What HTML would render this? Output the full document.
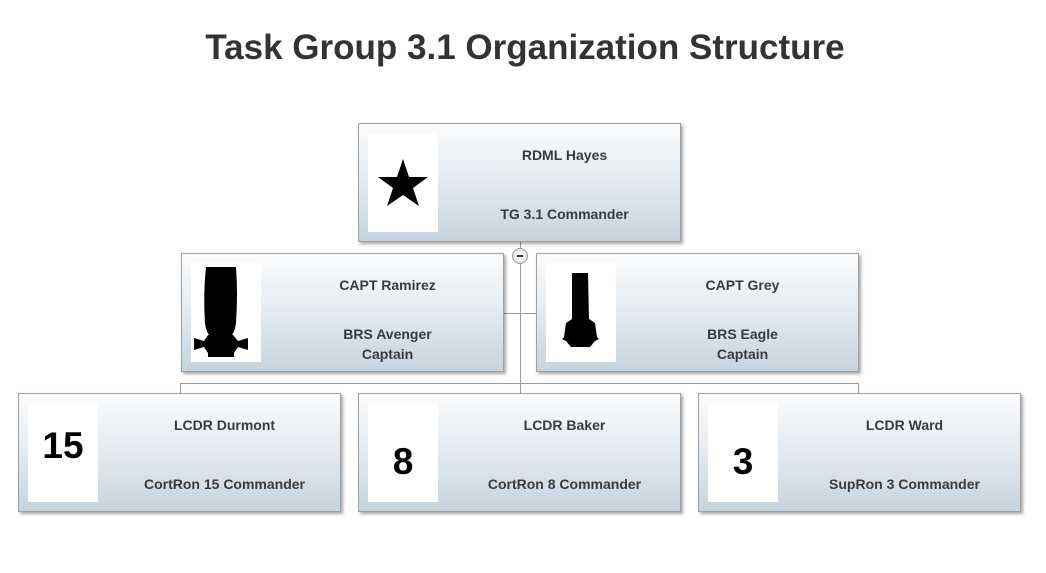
<!DOCTYPE html>
<html><head><style>
body{margin:0;width:1046px;height:573px;background:#fff;position:relative;overflow:hidden;font-family:"Liberation Sans",sans-serif}
.t{position:absolute;left:0;width:1050px;top:28px;text-align:center;font-size:35px;font-weight:bold;color:#333}
.b{position:absolute;width:323px;height:119px;border:1px solid #a0a0a0;box-sizing:border-box;background:linear-gradient(#fbfcfd,#e6ecf1 45%,#c6d4df);box-shadow:2px 2px 3px rgba(0,0,0,.35)}
.im{position:absolute;left:9px;top:9px;width:70px;height:99px;background:#fff;display:flex;align-items:center;justify-content:center;font-weight:bold;color:#000;font-size:37px}
.n,.r{position:absolute;left:90px;right:0;text-align:center;font-size:14px;font-weight:bold;color:#3a3a3a;line-height:20px}
.n{top:21px}.r{top:80px}.r2{top:70px}
.l{position:absolute;background:#9a9a9a}
</style></head><body>
<div class="t">Task Group 3.1 Organization Structure</div>
<div class="l" style="left:520px;top:241px;width:1px;height:152px"></div>
<div class="l" style="left:503px;top:313px;width:33px;height:1px"></div>
<div class="l" style="left:180px;top:383px;width:679px;height:1px"></div>
<div class="l" style="left:180px;top:383px;width:1px;height:10px"></div>
<div class="l" style="left:858px;top:383px;width:1px;height:10px"></div>
<div style="position:absolute;left:512px;top:248px;width:14px;height:14px;border:1px solid #999;border-radius:50%;background:radial-gradient(#fff,#ddd);"><div style="position:absolute;left:4px;top:6px;width:6px;height:2px;background:#333"></div></div>

<div class="b" style="left:358px;top:123px"><div class="im"><svg width="56" height="56" viewBox="0 0 56 56"><polygon fill="#000" points="28,4 34,22 53,22 38,33 44,51 28,40 12,51 18,33 3,22 22,22"/></svg></div><div class="n">RDML Hayes</div><div class="r">TG 3.1 Commander</div></div>

<div class="b" style="left:181px;top:253px"><div class="im"><svg width="70" height="99" viewBox="0 0 70 99"><path fill="#000" d="M15 4 H45 Q47 30 45 60 Q44 68 41 72 H18 Q15 68 14 60 Q12 30 15 4Z M17 72 H42 L47 78 L57 75 L57 87 L47 84 L43 90 V94 H17 V90 L13 84 L3 87 L3 75 L13 78Z"/></svg></div><div class="n">CAPT Ramirez</div><div class="r r2">BRS Avenger<br>Captain</div></div>

<div class="b" style="left:536px;top:253px"><div class="im"><svg width="70" height="99" viewBox="0 0 70 99"><path fill="#000" d="M26 10 H42 L43 56 L49 60 L51 74 L53 76 L51 77 L49 78 L44 84 H25 L20 78 L16 76 L18 74 L20 60 L26 56Z"/></svg></div><div class="n">CAPT Grey</div><div class="r r2">BRS Eagle<br>Captain</div></div>

<div class="b" style="left:18px;top:393px"><div class="im" style="align-items:flex-start;padding-top:22px;box-sizing:border-box">15</div><div class="n">LCDR Durmont</div><div class="r">CortRon 15 Commander</div></div>
<div class="b" style="left:358px;top:393px"><div class="im" style="align-items:flex-start;padding-top:38px;box-sizing:border-box">8</div><div class="n">LCDR Baker</div><div class="r">CortRon 8 Commander</div></div>
<div class="b" style="left:698px;top:393px"><div class="im" style="align-items:flex-start;padding-top:38px;box-sizing:border-box">3</div><div class="n">LCDR Ward</div><div class="r">SupRon 3 Commander</div></div>
</body></html>
